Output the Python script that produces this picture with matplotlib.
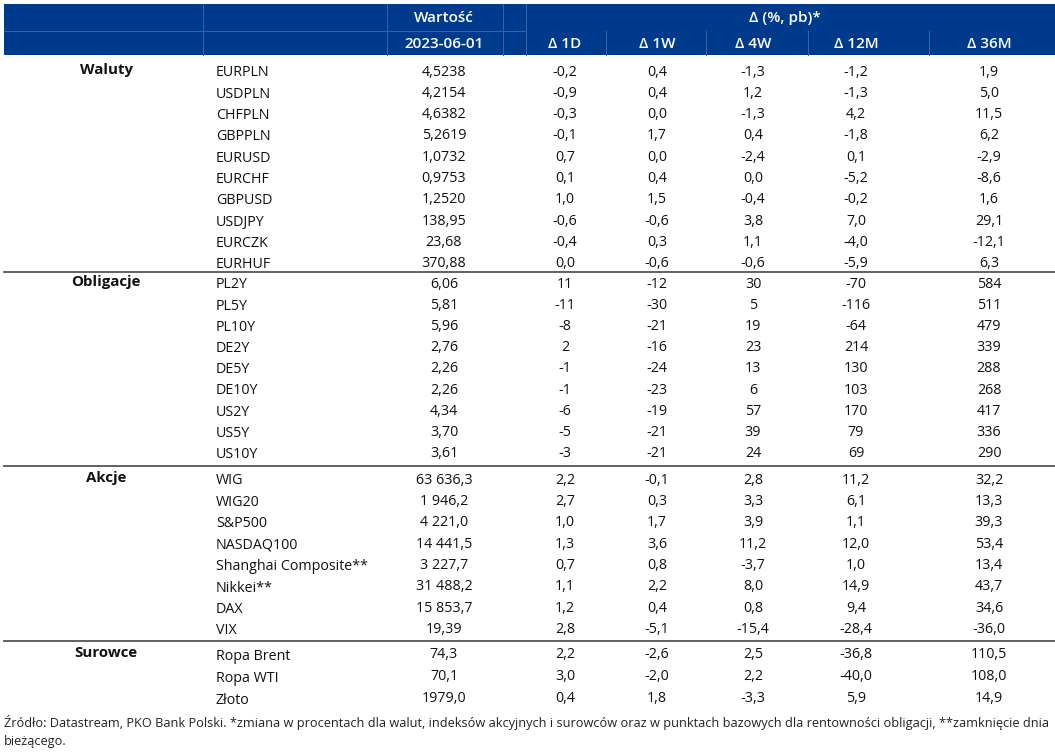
import matplotlib
matplotlib.use('Agg')
import matplotlib.pyplot as plt
import matplotlib.patches as mpatches

plt.rcParams['font.family'] = ['Open Sans', 'DejaVu Sans']

# ---- data ----
sections = ['Waluty', 'Obligacje', 'Akcje', 'Surowce']

waluty_names = ['EURPLN', 'USDPLN', 'CHFPLN', 'GBPPLN', 'EURUSD', 'EURCHF',
                'GBPUSD', 'USDJPY', 'EURCZK', 'EURHUF']
waluty_value = ['4,5238', '4,2154', '4,6382', '5,2619', '1,0732', '0,9753',
                '1,2520', '138,95', '23,68', '370,88']
waluty_1d = ['-0,2', '-0,9', '-0,3', '-0,1', '0,7', '0,1', '1,0', '-0,6', '-0,4', '0,0']
waluty_1w = ['0,4', '0,4', '0,0', '1,7', '0,0', '0,4', '1,5', '-0,6', '0,3', '-0,6']
waluty_4w = ['-1,3', '1,2', '-1,3', '0,4', '-2,4', '0,0', '-0,4', '3,8', '1,1', '-0,6']
waluty_12m = ['-1,2', '-1,3', '4,2', '-1,8', '0,1', '-5,2', '-0,2', '7,0', '-4,0', '-5,9']
waluty_36m = ['1,9', '5,0', '11,5', '6,2', '-2,9', '-8,6', '1,6', '29,1', '-12,1', '6,3']

oblig_names = ['PL2Y', 'PL5Y', 'PL10Y', 'DE2Y', 'DE5Y', 'DE10Y', 'US2Y', 'US5Y', 'US10Y']
oblig_value = ['6,06', '5,81', '5,96', '2,76', '2,26', '2,26', '4,34', '3,70', '3,61']
oblig_1d = ['11', '-11', '-8', '2', '-1', '-1', '-6', '-5', '-3']
oblig_1w = ['-12', '-30', '-21', '-16', '-24', '-23', '-19', '-21', '-21']
oblig_4w = ['30', '5', '19', '23', '13', '6', '57', '39', '24']
oblig_12m = ['-70', '-116', '-64', '214', '130', '103', '170', '79', '69']
oblig_36m = ['584', '511', '479', '339', '288', '268', '417', '336', '290']

akcje_names = ['WIG', 'WIG20', 'S&P500', 'NASDAQ100', 'Shanghai Composite**',
               'Nikkei**', 'DAX', 'VIX']
akcje_value = ['63 636,3', '1 946,2', '4 221,0', '14 441,5', '3 227,7',
               '31 488,2', '15 853,7', '19,39']
akcje_1d = ['2,2', '2,7', '1,0', '1,3', '0,7', '1,1', '1,2', '2,8']
akcje_1w = ['-0,1', '0,3', '1,7', '3,6', '0,8', '2,2', '0,4', '-5,1']
akcje_4w = ['2,8', '3,3', '3,9', '11,2', '-3,7', '8,0', '0,8', '-15,4']
akcje_12m = ['11,2', '6,1', '1,1', '12,0', '1,0', '14,9', '9,4', '-28,4']
akcje_36m = ['32,2', '13,3', '39,3', '53,4', '13,4', '43,7', '34,6', '-36,0']

surowce_names = ['Ropa Brent', 'Ropa WTI', 'Złoto']
surowce_value = ['74,3', '70,1', '1979,0']
surowce_1d = ['2,2', '3,0', '0,4']
surowce_1w = ['-2,6', '-2,0', '1,8']
surowce_4w = ['2,5', '2,2', '-3,3']
surowce_12m = ['-36,8', '-40,0', '5,9']
surowce_36m = ['110,5', '108,0', '14,9']

value_header = 'Wartość'
date_header = '2023-06-01'
delta_header = 'Δ (%, pb)*'
delta_cols = ['Δ 1D', 'Δ 1W', 'Δ 4W', 'Δ 12M', 'Δ 36M']

footnote = ('Źródło: Datastream, PKO Bank Polski. *zmiana w procentach dla walut, '
            'indeksów akcyjnych i surowców oraz w punktach bazowych dla rentowności '
            'obligacji, **zamknięcie dnia')
footnote2 = 'bieżącego.'

blocks = [
    (waluty_names, waluty_value, waluty_1d, waluty_1w, waluty_4w, waluty_12m, waluty_36m),
    (oblig_names, oblig_value, oblig_1d, oblig_1w, oblig_4w, oblig_12m, oblig_36m),
    (akcje_names, akcje_value, akcje_1d, akcje_1w, akcje_4w, akcje_12m, akcje_36m),
    (surowce_names, surowce_value, surowce_1d, surowce_1w, surowce_4w, surowce_12m, surowce_36m),
]

# ---- layout (pixel coordinates) ----
W, H = 1055, 754
BLUE = '#003a8c'
GRIDC = '#3564ab'
TXT = '#111111'
fig = plt.figure(figsize=(W / 100, H / 100), dpi=100)
ax = fig.add_axes([0, 0, 1, 1])
ax.set_xlim(0, W)
ax.set_ylim(H, 0)
ax.axis('off')

x_cat = 106
x_name = 216
x_val = 444
x_delta = [565, 657, 753, 856, 989]
sec_start = [72, 284, 480, 655]
sec_step = [21.3, 21.2, 21.4, 22.0]
sep_y = [272, 466, 641]

# header band
ax.add_patch(mpatches.Rectangle((4, 4), W - 4, 51, facecolor=BLUE, edgecolor='none'))
ax.plot([4, 526], [31, 31], color=GRIDC, lw=0.7)
for xv in [203, 387, 503, 526]:
    ax.plot([xv, xv], [4, 55], color=GRIDC, lw=0.7)
for xv in [606, 706, 808, 929]:
    ax.plot([xv, xv], [31, 55], color=GRIDC, lw=0.7)

hdr = dict(color='white', fontsize=11, fontweight='semibold', ha='center', va='center')
ax.text(x_val, 18, value_header, **hdr)
ax.text(x_val, 44, date_header, **hdr)
ax.text(785, 18, delta_header, **hdr)
for xc, lab in zip(x_delta, delta_cols):
    ax.text(xc, 44, lab, **hdr)

# body
for sec, blk, y0, dy in zip(sections, blocks, sec_start, sec_step):
    ax.text(x_cat, y0 - 2, sec, fontsize=10.8, fontweight='bold',
            ha='center', va='center', color=TXT)
    names, vals = blk[0], blk[1]
    for i, name in enumerate(names):
        y = y0 + i * dy
        ax.text(x_name, y + 1, name, fontsize=10.3, ha='left', va='center', color=TXT)
        ax.text(x_val, y, vals[i], fontsize=10.3, ha='center', va='center', color=TXT)
        for xc, col in zip(x_delta, blk[2:]):
            ax.text(xc, y, col[i], fontsize=10.3, ha='center', va='center', color=TXT)

for ys in sep_y:
    ax.plot([4, W], [ys, ys], color='#555555', lw=1.3)

# footnote: scale the first line so it spans the table width
fig.canvas.draw()
renderer = fig.canvas.get_renderer()
left, right = 4, 1050
fn = ax.text(left, 722, footnote, fontsize=9.5, ha='left', va='center', color='#222222')
fw = fn.get_window_extent(renderer).width
fs = min(10.2, 9.5 * (right - left) / fw)
fn.set_fontsize(fs)
ax.text(left, 741, footnote2, fontsize=fs, ha='left', va='center', color='#222222')

fig.savefig('out.png', dpi=100, facecolor='white')
plt.close(fig)
